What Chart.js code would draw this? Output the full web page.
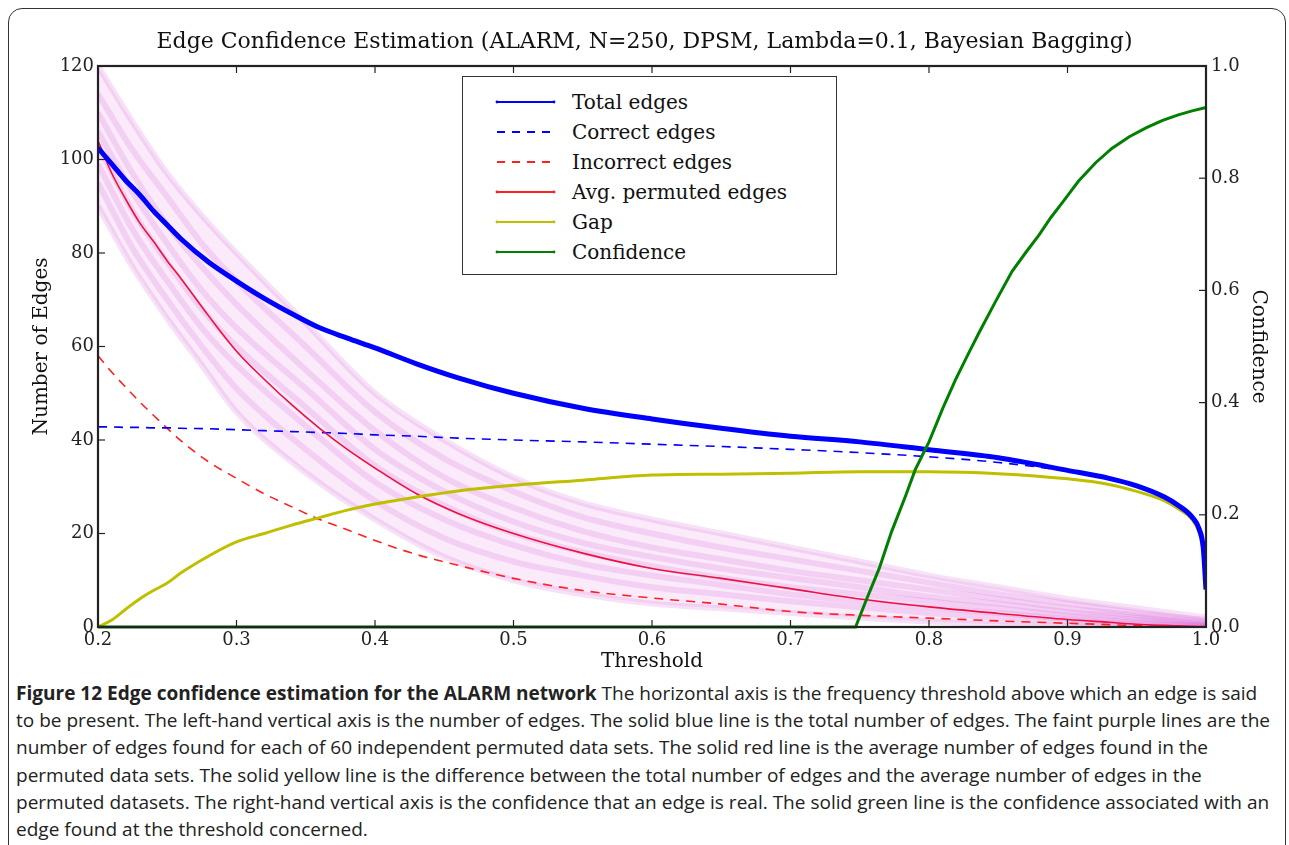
<!DOCTYPE html>
<html><head><meta charset="utf-8">
<script src="https://cdn.jsdelivr.net/npm/chart.js@4.4.1/dist/chart.umd.min.js"></script>
<style>
html,body{margin:0;padding:0;background:#fff;}
body{width:1289px;height:845px;position:relative;overflow:hidden;}
#frame{position:absolute;left:8px;top:8px;width:1278px;height:870px;border:1.5px solid #333;border-radius:14px;box-sizing:border-box;}
#chartBox{position:absolute;left:0;top:0;width:1289px;height:680px;}
#legend{position:absolute;left:462px;top:76px;width:375px;height:199px;border:1.5px solid #333;background:#fff;box-sizing:border-box;}
.lrow{position:absolute;left:0;width:100%;height:30px;}
.lrow svg{position:absolute;left:32px;top:10px;}
.lrow span{position:absolute;left:109px;top:2px;font-family:'DejaVu Serif';font-size:20px;line-height:26px;color:#111;white-space:nowrap;}
#caption{position:absolute;left:16px;top:680px;font-family:'Open Sans';font-size:19px;line-height:27.2px;color:#222;white-space:nowrap;transform-origin:0 0;}
#caption b{font-weight:700;}
</style></head>
<body>
<div id="chartBox"><canvas id="c" width="1289" height="680"></canvas></div>
<div id="legend"></div>
<div id="caption"></div>
<div id="frame"></div>
<script>
// ---- data ----
const thresholds = [0.20,0.21,0.22,0.23,0.24,0.25,0.26,0.28,0.30,0.32,0.34,0.36,0.38,0.40,0.43,0.46,0.50,0.55,0.60,0.65,0.70,0.75,0.80,0.85,0.90,0.93,0.95,0.97,0.98,0.99,0.995,0.998,1.0];
const totalEdges = [102.5,99,95.5,92.5,89,86,83,78,74,70.3,67,64,61.8,59.7,56.3,53.3,50,46.8,44.5,42.5,40.8,39.6,37.9,36.2,33.5,31.8,30.2,27.8,26,23.5,21,17,8];
const correctEdges = [42.8,42.8,42.7,42.7,42.6,42.6,42.5,42.4,42.2,42.0,41.8,41.6,41.4,41.1,40.8,40.4,40.0,39.6,39.1,38.6,38.0,37.3,36.4,35.2,33.3,31.6,30.0,27.6,25.8,23.3,20.8,16.8,8];
const incorrectEdges = [58,54.5,51.3,48.2,45.3,42.5,39.8,35.3,31.8,28.5,25.7,23.0,20.8,18.5,15.5,13.2,10.4,7.8,6.2,4.9,3.3,2.5,1.9,1.3,0.8,0.5,0.3,0.1,0.05,0,0,0,0];
const avgPermutedEdges = [104,97,91.5,86.5,82.5,78.3,74.5,66.5,59,53,47.5,42.5,38,34,28.5,24.3,20,15.8,12.5,10.4,8.2,6,4.3,2.9,1.6,1.0,0.6,0.35,0.25,0.15,0.1,0.1,0.1];
const gapValues = [0,1.5,3.8,6.0,7.8,9.4,11.6,15.2,18.2,20.0,21.8,23.4,25.0,26.3,27.8,29.1,30.3,31.4,32.5,32.7,32.9,33.2,33.2,32.8,31.7,30.5,29.0,27.0,25.3,23.0,20.2,16.5,12];
const confidenceX = [0.20,0.747,0.755,0.764,0.773,0.783,0.79,0.80,0.81,0.819,0.828,0.836,0.848,0.860,0.870,0.8795,0.888,0.8964,0.908,0.9205,0.932,0.9446,0.957,0.9687,0.98,0.99,1.0];
const confidenceValues = [0,0,0.05,0.104,0.17,0.233,0.28,0.33,0.39,0.44,0.485,0.524,0.58,0.634,0.668,0.699,0.73,0.757,0.795,0.828,0.853,0.874,0.89,0.903,0.913,0.92,0.926];
const permX = [0.20,0.225,0.25,0.275,0.30,0.35,0.40,0.45,0.50,0.55,0.60,0.65,0.70,0.75,0.80,0.85,0.90,0.95,1.00];
const permutedA = [120,108,97,88,80,65,50,40,32,26.5,23,20,17,14,11,8.5,6,4,2];
const permutedB = [114,102,92,82,74,60,46,36,29,23.5,20,17,14.5,12,9.5,7,5,3,1.5];
const permutedC = [110,97,86,77,69,55,42,32,25.5,20.5,17,14.5,12,10,8,6,4,2.5,1];
const permutedD = [106,93,82,72,64,51,38,29,22.5,18,15,12.5,10.5,8.5,6.5,5,3.2,2,0.8];
const permutedE = [103,89,78,68,60,47,34.5,26,20,16,13,10.5,8.5,7,5.5,4,2.5,1.5,0.5];
const permutedF = [99,85,74,64,56,43,31,23,17.5,13.5,11,9,7,5.5,4.2,3,1.8,1,0.3];
const permutedG = [95,81,70,60,51,38,27,19,14,11,8.5,7,5.5,4.2,3,2,1.2,0.6,0.2];
const permutedH = [90,77,66,56,46,33,23,15,10,7,5,4,3,2,1.2,0.6,0.3,0.1,0];
const xTicks = [0.2,0.3,0.4,0.5,0.6,0.7,0.8,0.9,1.0];
const leftTicks = [0,20,40,60,80,100,120];
const rightTicks = [0.0,0.2,0.4,0.6,0.8,1.0];
const legendLabels = ['Total edges','Correct edges','Incorrect edges','Avg. permuted edges','Gap','Confidence'];
const titleText = 'Edge Confidence Estimation (ALARM, N=250, DPSM, Lambda=0.1, Bayesian Bagging)';
const captionBold = 'Figure 12 Edge confidence estimation for the ALARM network';
const captionLines = [
 ' The horizontal axis is the frequency threshold above which an edge is said',
 'to be present. The left-hand vertical axis is the number of edges. The solid blue line is the total number of edges. The faint purple lines are the',
 'number of edges found for each of 60 independent permuted data sets. The solid red line is the average number of edges found in the',
 'permuted data sets. The solid yellow line is the difference between the total number of edges and the average number of edges in the',
 'permuted datasets. The right-hand vertical axis is the confidence that an edge is real. The solid green line is the confidence associated with an',
 'edge found at the threshold concerned.'];

// ---- styles ----
const BLUE='#0000ff', RED='#ff2020', YEL='#bfbf00', GRN='#008000';
const legendStyles = [
 {c:BLUE,w:2,d:null},{c:BLUE,w:2,d:'8,7'},{c:RED,w:2,d:'8,7'},{c:RED,w:2,d:null},{c:YEL,w:2,d:null},{c:GRN,w:2,d:null}];

function pairs(xs, ys){ return xs.map((x,i)=>({x:x,y:ys[i]})); }

const permRuns = [permutedA,permutedB,permutedC,permutedD,permutedE,permutedF,permutedG,permutedH];
const purple = permRuns.map((arr,i)=>({
  label:'perm'+i, data:pairs(permX,arr), borderColor:'rgba(200,40,200,0.14)', borderWidth:6,
  backgroundColor:'rgba(215,90,215,0.13)',
  fill: i===0 ? 6 + permRuns.length - 1 : false,
  pointRadius:0, cubicInterpolationMode:'monotone', order:20, yAxisID:'y'}));

const datasets = [
 {label:'Confidence', data:pairs(confidenceX,confidenceValues), borderColor:GRN, borderWidth:3, pointRadius:0, yAxisID:'y1', order:1, clip:{left:0,top:0,right:4,bottom:4}},
 {label:'Total edges', data:pairs(thresholds,totalEdges), borderColor:BLUE, borderWidth:5, pointRadius:0, cubicInterpolationMode:'monotone', yAxisID:'y', order:2},
 {label:'Gap', data:pairs(thresholds,gapValues), borderColor:YEL, borderWidth:3, pointRadius:0, cubicInterpolationMode:'monotone', yAxisID:'y', order:3},
 {label:'Avg. permuted edges', data:pairs(thresholds,avgPermutedEdges), borderColor:'#ee1040', borderWidth:1.6, pointRadius:0, cubicInterpolationMode:'monotone', yAxisID:'y', order:4},
 {label:'Correct edges', data:pairs(thresholds,correctEdges), borderColor:BLUE, borderWidth:1.6, borderDash:[9,7], pointRadius:0, cubicInterpolationMode:'monotone', yAxisID:'y', order:5},
 {label:'Incorrect edges', data:pairs(thresholds,incorrectEdges), borderColor:RED, borderWidth:1.6, borderDash:[9,7], pointRadius:0, cubicInterpolationMode:'monotone', yAxisID:'y', order:6}
].concat(purple);

const frameTicks = {
  id:'frameTicks',
  afterDraw(chart){
    const {ctx, chartArea:a, scales} = chart;
    ctx.save();
    ctx.strokeStyle='#222';
    ctx.lineWidth=1.2;
    const L=(x1,y1,x2,y2)=>{ctx.beginPath();ctx.moveTo(x1,y1);ctx.lineTo(x2,y2);ctx.stroke();};
    scales.x.ticks.forEach(t=>{const p=scales.x.getPixelForValue(t.value); L(p,a.bottom,p,a.bottom-7); L(p,a.top,p,a.top+7);});
    scales.y.ticks.forEach(t=>{const p=scales.y.getPixelForValue(t.value); L(a.left,p,a.left+7,p);});
    scales.y1.ticks.forEach(t=>{const p=scales.y1.getPixelForValue(t.value); L(a.right,p,a.right-7,p);});
    ctx.lineWidth=2.2;
    ctx.strokeRect(a.left,a.top,a.right-a.left,a.bottom-a.top);
    ctx.restore();
  }
};

const tickFont = {family:'DejaVu Serif', size:18};
const axisTitleFont = {family:'DejaVu Serif', size:20};
new Chart(document.getElementById('c'), {
  type:'line',
  data:{datasets:datasets},
  options:{
    responsive:false, animation:false, devicePixelRatio:1,
    layout:{padding:0},
    plugins:{
      legend:{display:false}, tooltip:{enabled:false},
      title:{display:true, text:titleText, color:'#111', font:{family:'DejaVu Serif', size:22, weight:'normal'}, padding:{top:29,bottom:10.6}}
    },
    scales:{
      x:{type:'linear', min:0.2, max:1.0,
         afterBuildTicks(s){ s.ticks = xTicks.map(v=>({value:v})); },
         afterFit(s){ s.height = 53; },
         grid:{display:false, drawTicks:false}, border:{display:false},
         ticks:{font:tickFont, color:'#222', padding:3, maxRotation:0, autoSkip:false, callback:v=>Number(v).toFixed(1)},
         title:{display:true, text:'Threshold', color:'#111', font:axisTitleFont, padding:{top:0,bottom:6}}},
      y:{type:'linear', position:'left', min:0, max:120,
         afterBuildTicks(s){ s.ticks = leftTicks.map(v=>({value:v})); },
         afterFit(s){ s.width = 98; },
         grid:{display:false, drawTicks:false}, border:{display:false},
         ticks:{font:tickFont, color:'#222', padding:4, callback:v=>String(v)},
         title:{display:true, text:'Number of Edges', color:'#111', font:axisTitleFont, padding:{top:30,bottom:0}}},
      y1:{type:'linear', position:'right', min:0, max:1,
         afterBuildTicks(s){ s.ticks = rightTicks.map(v=>({value:v})); },
         afterFit(s){ s.width = 83; },
         grid:{display:false, drawTicks:false}, border:{display:false},
         ticks:{font:tickFont, color:'#222', padding:5, callback:v=>Number(v).toFixed(1)},
         title:{display:true, text:'Confidence', color:'#111', font:axisTitleFont, padding:{top:19,bottom:0}}}
    }
  },
  plugins:[frameTicks]
});

// ---- legend (HTML) ----
const lg = document.getElementById('legend');
legendLabels.forEach((name,i)=>{
  const st = legendStyles[i];
  const row = document.createElement('div');
  row.className='lrow'; row.style.top = (10 + i*30) + 'px';
  const dash = st.d ? ' stroke-dasharray="'+st.d+'"' : '';
  const dots = st.d ? '' : '<circle cx="2" cy="5" r="1.4" fill="'+st.c+'"/><circle cx="59" cy="5" r="1.4" fill="'+st.c+'"/>';
  row.innerHTML = '<svg width="62" height="10"><line x1="2" y1="5" x2="59" y2="5" stroke="'+st.c+'" stroke-width="'+st.w+'"'+dash+'/>'+dots+'</svg><span>'+name+'</span>';
  lg.appendChild(row);
});

// ---- caption (HTML) ----
const cap = document.getElementById('caption');
cap.innerHTML = '<div><b>'+captionBold+'</b>'+captionLines[0]+'</div>' + captionLines.slice(1).map(l=>'<div>'+l+'</div>').join('');
const probe = document.createElement('span');
probe.style.cssText = "font-family:'Open Sans';font-size:19px;white-space:nowrap;position:absolute;visibility:hidden;";
probe.textContent = captionLines[1];
document.body.appendChild(probe);
const w = probe.getBoundingClientRect().width;
probe.remove();
cap.style.transform = 'scaleX(' + (1254 / w) + ')';
</script>
</body></html>
